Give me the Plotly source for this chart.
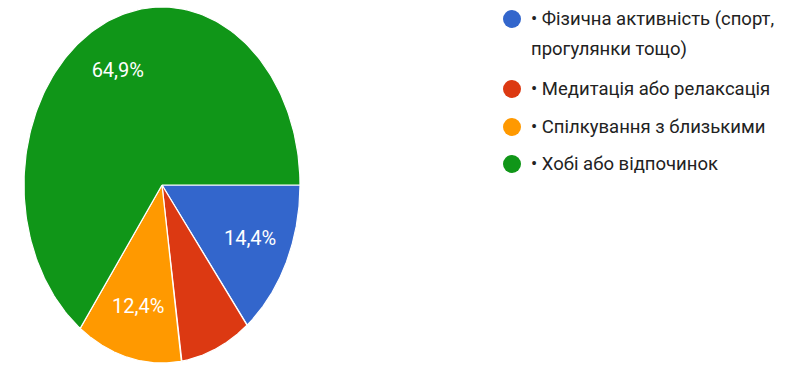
import numpy as np
import plotly.graph_objects as go

# Survey answers and their shares (%)
categories = [
    "• Фізична активність (спорт, прогулянки тощо)",
    "• Медитація або релаксація",
    "• Спілкування з близькими",
    "• Хобі або відпочинок",
]
legend_lines = [
    ["• Фізична активність (спорт,", "прогулянки тощо)"],
    ["• Медитація або релаксація"],
    ["• Спілкування з близькими"],
    ["• Хобі або відпочинок"],
]
shares = [14.4, 8.3, 12.4, 64.9]
colors = ["#3366cc", "#dc3912", "#ff9900", "#109618"]

W, H = 786, 365
# pie geometry in pixels (slightly taller than wide)
CX, CY, RX, RY = 162, 185, 138, 178

fig = go.Figure()

total = sum(shares)
cum = 0.0
for name, v, c in zip(categories, shares, colors):
    a0 = -2 * np.pi * cum / total
    a1 = -2 * np.pi * (cum + v) / total
    t = np.linspace(a0, a1, 200)
    xs = np.concatenate([[0], np.cos(t), [0]])
    ys = np.concatenate([[0], np.sin(t), [0]])
    fig.add_trace(go.Scatter(
        x=xs, y=ys, mode="lines", fill="toself", fillcolor=c,
        line=dict(color="white", width=1.2), hoverinfo="skip",
        name=name, showlegend=False,
    ))
    if v >= 10:
        am = (a0 + a1) / 2
        fig.add_trace(go.Scatter(
            x=[0.71 * np.cos(am)], y=[0.71 * np.sin(am)], mode="text",
            text=[f"{v:.1f}".replace(".", ",") + "%"],
            textfont=dict(family="Roboto", size=20, color="white"),
            showlegend=False, hoverinfo="skip",
        ))
    cum += v

# custom legend drawn in pixel space on a second pair of axes
row_y = [19, 89, 127, 164]
for lines, c, y in zip(legend_lines, colors, row_y):
    fig.add_trace(go.Scatter(
        x=[512], y=[y], mode="markers", xaxis="x2", yaxis="y2",
        marker=dict(size=18, color=c), showlegend=False, hoverinfo="skip",
    ))
    for k, ln in enumerate(lines):
        fig.add_annotation(
            x=529, y=y + 30 * k, xref="x2", yref="y2", text=ln,
            showarrow=False, xanchor="left", yanchor="middle",
            font=dict(family="Roboto", size=18.5, color="#222222"),
        )

x0 = -CX / RX
y0 = -(H - CY) / RY
fig.update_layout(
    width=W, height=H,
    margin=dict(l=0, r=0, t=0, b=0),
    paper_bgcolor="white", plot_bgcolor="white",
    xaxis=dict(range=[x0, x0 + W / RX], visible=False, domain=[0, 1]),
    yaxis=dict(range=[y0, y0 + H / RY], visible=False, domain=[0, 1]),
    xaxis2=dict(range=[0, W], visible=False, overlaying="x", domain=[0, 1]),
    yaxis2=dict(range=[H, 0], visible=False, overlaying="y", domain=[0, 1]),
    showlegend=False,
)

fig.write_html("out.html")
